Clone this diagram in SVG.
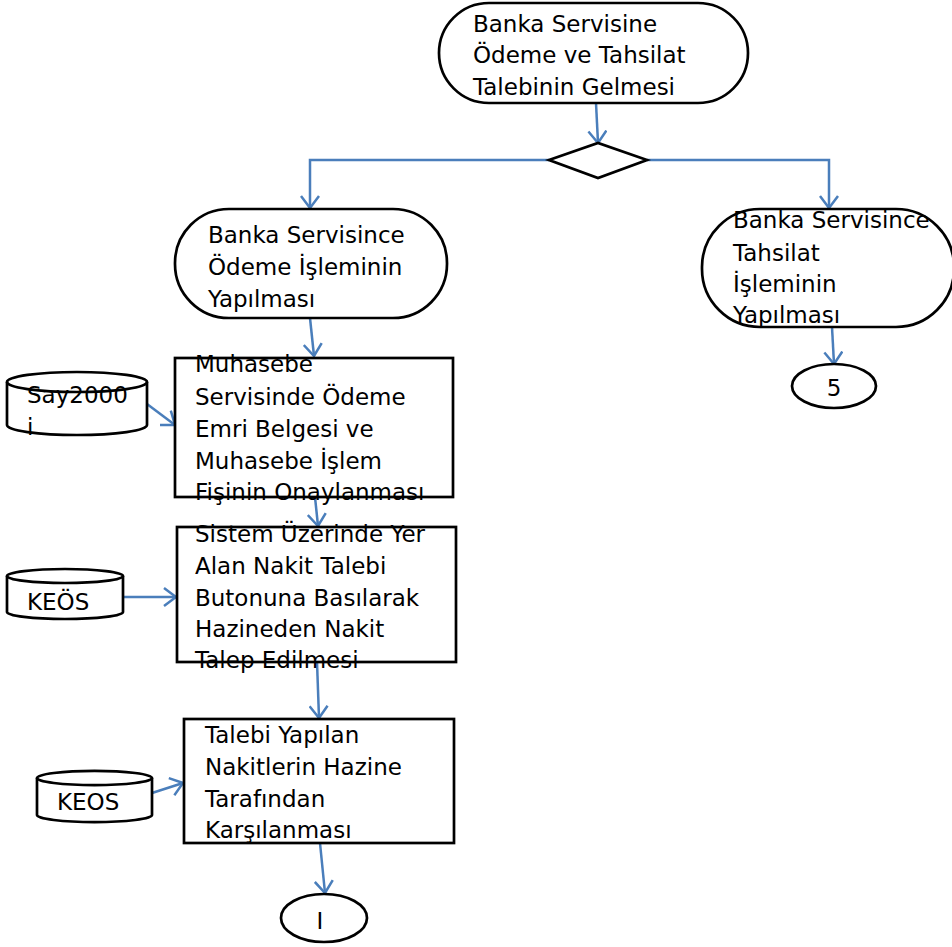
<svg xmlns="http://www.w3.org/2000/svg" width="952" height="947" viewBox="0 0 952 947">
<defs>
<marker id="ah" viewBox="0 0 14 20" refX="13" refY="10" markerWidth="14" markerHeight="20" markerUnits="userSpaceOnUse" orient="auto">
<path d="M1,1 L13,10 L1,19" fill="none" stroke="#4a7ebb" stroke-width="2.5"/>
</marker>
</defs>
<style>
.s{fill:#fff;stroke:#000;stroke-width:2.7}
.t{font-family:"DejaVu Sans",sans-serif;font-size:23px;fill:#000}
.c{fill:none;stroke:#4a7ebb;stroke-width:2.5}
</style>
<rect width="952" height="947" fill="#fff"/>
<g id="connectors">
<line class="c" x1="596" y1="103" x2="598" y2="143" marker-end="url(#ah)"/>
<polyline class="c" points="549,160 310,160 310,208" marker-end="url(#ah)"/>
<polyline class="c" points="647,160 829,160 829,208" marker-end="url(#ah)"/>
<line class="c" x1="310" y1="318" x2="314" y2="356" marker-end="url(#ah)"/>
<line class="c" x1="832" y1="327" x2="834" y2="364" marker-end="url(#ah)"/>
<line class="c" x1="147" y1="404" x2="175" y2="425" marker-end="url(#ah)"/>
<line class="c" x1="315" y1="497" x2="318" y2="526" marker-end="url(#ah)"/>
<line class="c" x1="123" y1="597" x2="176" y2="597" marker-end="url(#ah)"/>
<line class="c" x1="317" y1="662" x2="319" y2="718" marker-end="url(#ah)"/>
<line class="c" x1="152" y1="793" x2="183" y2="783" marker-end="url(#ah)"/>
<line class="c" x1="320" y1="843" x2="325" y2="893" marker-end="url(#ah)"/>
</g>
<g id="start">
<rect class="s" x="439" y="3" width="309" height="100" rx="50" ry="50"/>
<text class="t" x="473" y="32">Banka Servisine</text>
<text class="t" x="473" y="63">Ödeme ve Tahsilat</text>
<text class="t" x="473" y="95">Talebinin Gelmesi</text>
</g>
<g id="decision">
<polygon class="s" points="549,160 598,143 647,160 598,178"/>
</g>
<g id="odeme">
<rect class="s" x="175" y="209" width="272" height="109" rx="54" ry="54"/>
<text class="t" x="208" y="243">Banka Servisince</text>
<text class="t" x="208" y="275">Ödeme İşleminin</text>
<text class="t" x="208" y="307">Yapılması</text>
</g>
<g id="tahsilat">
<rect class="s" x="702" y="209" width="252" height="118" rx="58" ry="58"/>
<text class="t" x="733" y="228">Banka Servisince</text>
<text class="t" x="733" y="261">Tahsilat</text>
<text class="t" x="733" y="292">İşleminin</text>
<text class="t" x="733" y="323">Yapılması</text>
</g>
<g id="con5">
<ellipse class="s" cx="834" cy="386" rx="42" ry="22"/>
<text class="t" x="834" y="396" text-anchor="middle">5</text>
</g>
<g id="say2000i">
<path class="s" d="M7,382 A70,10 0 0 1 147,382 L147,425 A70,10 0 0 1 7,425 Z"/>
<path d="M7,382 A70,10 0 0 0 147,382" fill="none" stroke="#000" stroke-width="2.7"/>
<text class="t" x="27" y="403">Say2000</text>
<text class="t" x="27" y="435">i</text>
</g>
<g id="muhasebe">
<rect class="s" x="175" y="358" width="278" height="139"/>
<text class="t" x="195" y="372">Muhasebe</text>
<text class="t" x="195" y="405">Servisinde Ödeme</text>
<text class="t" x="195" y="437">Emri Belgesi ve</text>
<text class="t" x="195" y="469">Muhasebe İşlem</text>
<text class="t" x="195" y="500">Fişinin Onaylanması</text>
</g>
<g id="keos1">
<path class="s" d="M7,576 A58,7 0 0 1 123,576 L123,612 A58,7 0 0 1 7,612 Z"/>
<path d="M7,576 A58,7 0 0 0 123,576" fill="none" stroke="#000" stroke-width="2.7"/>
<text class="t" x="27" y="610">KEÖS</text>
</g>
<g id="sistem">
<rect class="s" x="177" y="527" width="279" height="135"/>
<text class="t" x="195" y="542">Sistem Üzerinde Yer</text>
<text class="t" x="195" y="574">Alan Nakit Talebi</text>
<text class="t" x="195" y="606">Butonuna Basılarak</text>
<text class="t" x="195" y="637">Hazineden Nakit</text>
<text class="t" x="195" y="668">Talep Edilmesi</text>
</g>
<g id="keos2">
<path class="s" d="M37,778 A57,7 0 0 1 152,778 L152,815 A57,7 0 0 1 37,815 Z"/>
<path d="M37,778 A57,7 0 0 0 152,778" fill="none" stroke="#000" stroke-width="2.7"/>
<text class="t" x="57" y="810">KEOS</text>
</g>
<g id="talebi">
<rect class="s" x="184" y="719" width="270" height="124"/>
<text class="t" x="205" y="743">Talebi Yapılan</text>
<text class="t" x="205" y="775">Nakitlerin Hazine</text>
<text class="t" x="205" y="807">Tarafından</text>
<text class="t" x="205" y="838">Karşılanması</text>
</g>
<g id="conI">
<ellipse class="s" cx="324" cy="918" rx="43" ry="24"/>
<text class="t" x="320" y="929" text-anchor="middle">I</text>
</g>
</svg>
